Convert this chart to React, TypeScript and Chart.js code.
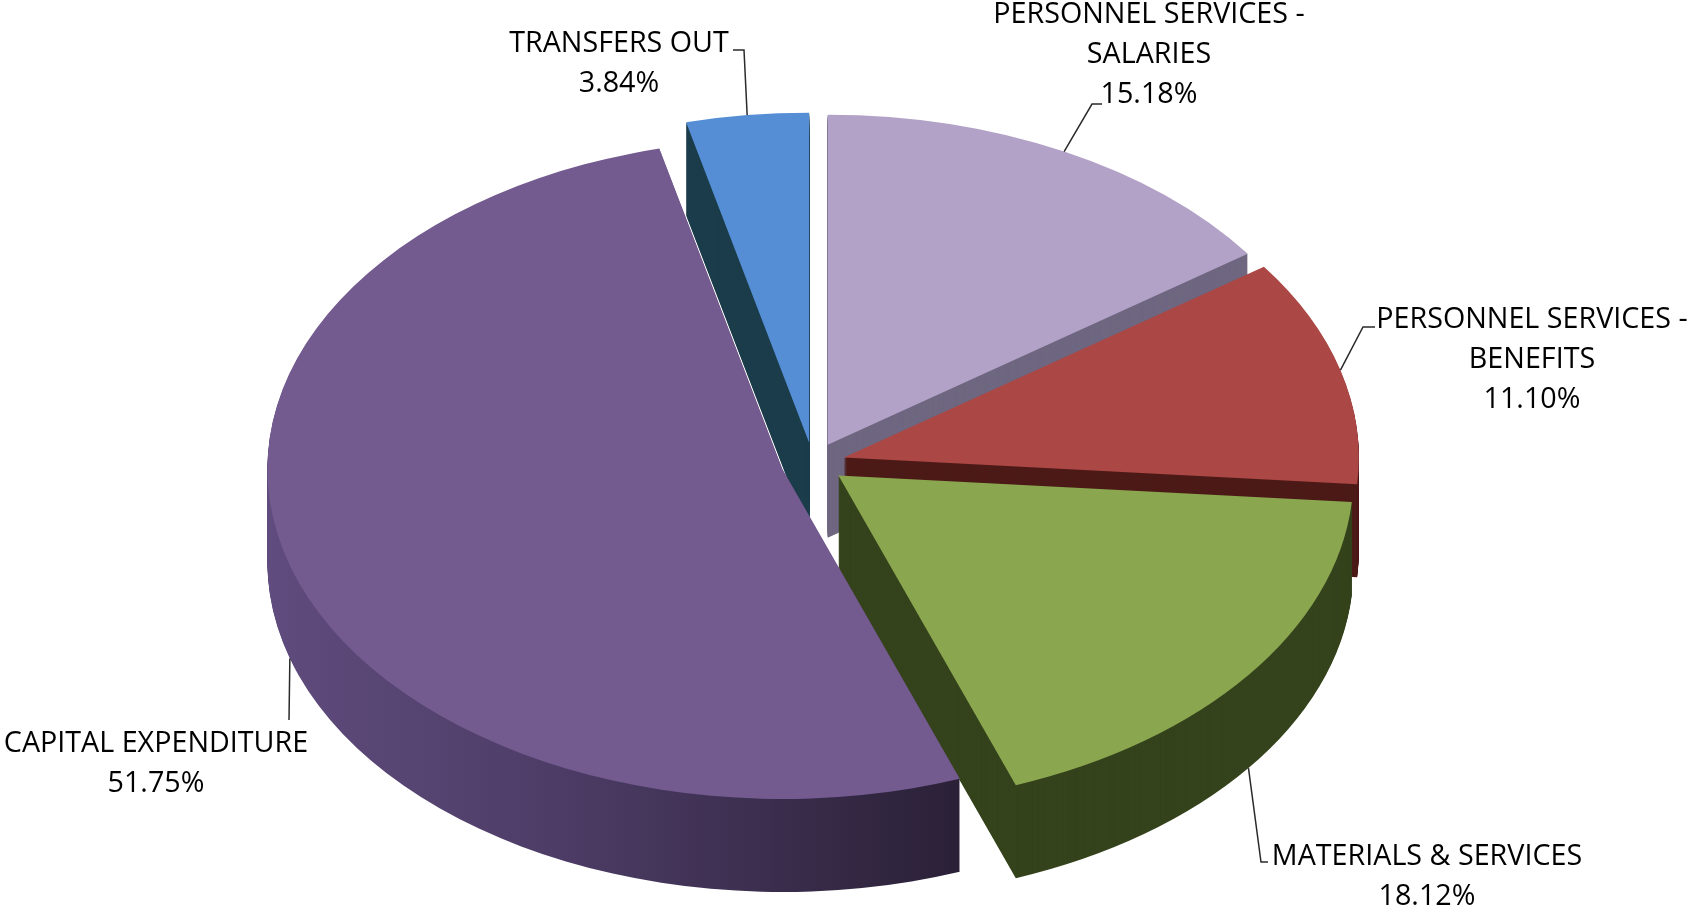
import React, { useEffect, useRef } from "react";
import { Chart, registerables } from "chart.js";

Chart.register(...registerables);

// ---- data ----
const categories = [
  "PERSONNEL SERVICES - SALARIES",
  "PERSONNEL SERVICES - BENEFITS",
  "MATERIALS & SERVICES",
  "CAPITAL EXPENDITURE",
  "TRANSFERS OUT",
];
const labelLines = [
  ["PERSONNEL SERVICES -", "SALARIES"],
  ["PERSONNEL SERVICES -", "BENEFITS"],
  ["MATERIALS & SERVICES"],
  ["CAPITAL EXPENDITURE"],
  ["TRANSFERS OUT"],
];
const shares = [15.18, 11.1, 18.12, 51.75, 3.84];

// ---- styles ----
const topColors = ["#b3a2c7", "#ab4744", "#8aa64f", "#735a8f", "#558ed5"];
const wallColors = ["#6f6781", "#4c1a17", "#35431c", "#4a3a62", "#1c3d4b"];
const capitalWallStops: [number, string][] = [
  [0, "#604c7e"],
  [0.45, "#4b3b64"],
  [1, "#2a2036"],
];

// ---- layout of the tilted pie (screen px) ----
const PIE_CX = 813;
const PIE_CY = 463;
const PIE_RX = 515;
const PIE_RY = 330;
const DEPTH = 93;
const EXPLODE = 32;
const FONT = "28.7px 'Open Sans'";
const LINE_GAP = 40;

// label placement: text centre x, first baseline y, leader elbow and end
const labelLayout = [
  { x: 1149, y: 23, elbow: [1092, 104], end: [1102, 104] },
  { x: 1532, y: 328, elbow: [1363, 327], end: [1375, 327] },
  { x: 1427, y: 865, elbow: [1261, 862], end: [1268, 862] },
  { x: 156, y: 752, elbow: [289, 720], end: [289, 720] },
  { x: 619, y: 52, elbow: [744, 50], end: [733, 50] },
];

function geometry(chart: any) {
  const arcs = chart.getDatasetMeta(0).data as any[];
  const r = arcs[0].outerRadius;
  const ax = arcs[0].x;
  const ay = arcs[0].y;
  return { arcs, r, ax, ay, sx: PIE_RX / r, sy: PIE_RY / r };
}

const pie3d = {
  id: "pie3d",
  beforeDatasetsDraw(chart: any) {
    const ctx: CanvasRenderingContext2D = chart.ctx;
    const meta = chart.getDatasetMeta(0);
    if (!meta.data.length) return false;
    const { arcs, ax, ay, sx, sy } = geometry(chart);

    const place = (arc: any, d: number) => {
      const mid = (arc.startAngle + arc.endAngle) / 2;
      const ex = (EXPLODE / sx) * Math.cos(mid);
      const ey = (EXPLODE / sx) * Math.sin(mid);
      ctx.translate(PIE_CX, PIE_CY + d);
      ctx.scale(sx, sy);
      ctx.translate(-ax + ex, -ay + ey);
      return ex;
    };

    for (let d = DEPTH; d >= 1; d--) {
      arcs.forEach((arc: any, i: number) => {
        ctx.save();
        const ex = place(arc, d);
        let fill: any = wallColors[i];
        if (i === 3) {
          const toChart = (X: number) => (X - PIE_CX) / sx + ax - ex;
          const g = ctx.createLinearGradient(toChart(262), 0, toChart(965), 0);
          capitalWallStops.forEach(([o, c]) => g.addColorStop(o, c));
          fill = g;
        }
        const orig = arc.options;
        arc.options = { ...orig, backgroundColor: fill, borderWidth: 0 };
        arc.draw(ctx);
        arc.options = orig;
        ctx.restore();
      });
    }
    arcs.forEach((arc: any) => {
      ctx.save();
      place(arc, 0);
      arc.draw(ctx);
      ctx.restore();
    });
    return false;
  },
  afterDraw(chart: any) {
    const ctx: CanvasRenderingContext2D = chart.ctx;
    const meta = chart.getDatasetMeta(0);
    if (!meta.data.length) return;
    const { arcs, sx, sy } = geometry(chart);
    ctx.save();
    arcs.forEach((arc: any, i: number) => {
      const mid = (arc.startAngle + arc.endAngle) / 2;
      const c = Math.cos(mid);
      const s = Math.sin(mid);
      const ox = EXPLODE * c;
      const oy = EXPLODE * (sy / sx) * s;
      const px = PIE_CX + ox + PIE_RX * c;
      const py = PIE_CY + oy + PIE_RY * s + (s > 0 ? DEPTH : 0);
      const L = labelLayout[i];
      ctx.strokeStyle = "#2a2a2a";
      ctx.lineWidth = 1.5;
      ctx.beginPath();
      ctx.moveTo(px, py);
      ctx.lineTo(L.elbow[0], L.elbow[1]);
      ctx.lineTo(L.end[0], L.end[1]);
      ctx.stroke();

      ctx.fillStyle = "#000000";
      ctx.font = FONT;
      ctx.textAlign = "center";
      ctx.textBaseline = "alphabetic";
      const lines = [...labelLines[i], shares[i].toFixed(2) + "%"];
      lines.forEach((t, k) => ctx.fillText(t, L.x, L.y + k * LINE_GAP));
    });
    ctx.restore();
  },
};

export default function App() {
  const ref = useRef<HTMLCanvasElement | null>(null);
  useEffect(() => {
    document.body.style.margin = "0";
    const canvas = ref.current;
    if (!canvas) return;
    const chart = new Chart(canvas, {
      type: "pie",
      data: {
        labels: categories,
        datasets: [
          {
            data: shares,
            backgroundColor: topColors,
            borderWidth: 0,
            hoverOffset: 0,
          },
        ],
      },
      options: {
        responsive: false,
        maintainAspectRatio: false,
        devicePixelRatio: 1,
        animation: false,
        events: [],
        layout: { padding: 0 },
        plugins: {
          legend: { display: false },
          tooltip: { enabled: false },
        },
      },
      plugins: [pie3d],
    });
    return () => chart.destroy();
  }, []);
  return (
    <div style={{ width: 1690, height: 910, background: "#ffffff" }}>
      <canvas ref={ref} width={1690} height={910} style={{ display: "block" }} />
    </div>
  );
}
